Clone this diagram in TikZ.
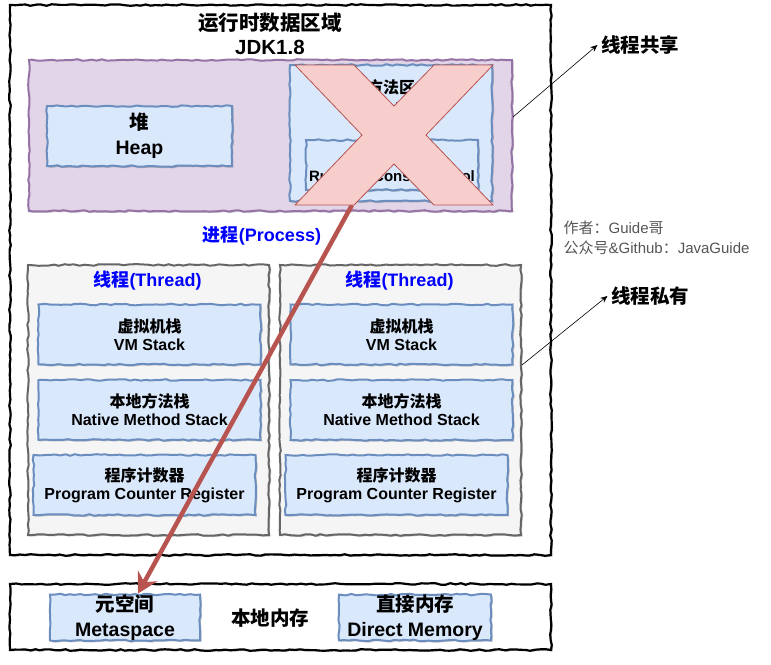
\documentclass[tikz,border=0pt]{standalone}
\usepackage{fontspec}
\setmainfont{Liberation Sans}
\newfontfamily\cjk{Noto Sans CJK SC}
\usepackage{tikz}
\usetikzlibrary{
	arrows.meta,
	calc,
	decorations.pathmorphing,
	shadows
}
\definecolor{boxBlue}{HTML}{6C8EBF}
\definecolor{boxFill}{HTML}{DAE8FC}
\definecolor{regionPurple}{HTML}{9673A6}
\definecolor{regionFill}{HTML}{E1D5E7}
\definecolor{threadGray}{HTML}{666666}
\definecolor{threadFill}{HTML}{F5F5F5}
\definecolor{crossRed}{HTML}{B85450}
\definecolor{crossFill}{HTML}{F8CECC}
\definecolor{labelBlue}{HTML}{0000FF}
\definecolor{noteGray}{HTML}{555555}
\newcommand{\zh}[1]{{\cjk #1}}
\newcommand{\titleFont}{\fontsize{20.5}{24}\selectfont\bfseries}
\newcommand{\bigFont}{\fontsize{19.5}{25}\selectfont\bfseries}
\newcommand{\midFont}{\fontsize{18}{22}\selectfont\bfseries}
\newcommand{\smallFont}{\fontsize{16}{18}\selectfont\bfseries}
\newcommand{\noteFont}{\fontsize{15}{20}\selectfont}
\tikzset{every path/.append style={line width=0.5pt}}
\tikzset{
	sketch/.style={decorate,decoration={random steps,segment length=5pt,amplitude=0.8pt}},
	softShadow/.style={drop shadow={shadow xshift=1.5pt,shadow yshift=-1.5pt,opacity=0.2,fill=black}},
	frame/.style={sketch,softShadow,draw=black,fill=white,line width=2.2pt,inner sep=0pt},
	region/.style={sketch,softShadow,draw=regionPurple,fill=regionFill,line width=2pt,inner sep=0pt},
	thread/.style={sketch,softShadow,draw=threadGray,fill=threadFill,line width=2pt,inner sep=0pt},
	box/.style={sketch,softShadow,draw=boxBlue,fill=boxFill,line width=2pt,inner sep=0pt,
		align=center,font=\smallFont,minimum width=222,minimum height=60},
	cross/.style={draw=crossRed,fill=crossFill,line width=0.8pt},
	moveArrow/.style={draw=crossRed,line width=4.5pt,-{Stealth[length=20pt,width=22pt,inset=7pt]}},
	pointer/.style={draw=black,line width=0.6pt,-{Stealth[length=7pt,width=6pt]}}
}
\newcommand{\tikzBox}[4][]{\node (#3) at #2 [box,#1]{#4};}

\begin{document}
\begin{tikzpicture}[x=1pt,y=-1pt]
	\useasboundingbox (0,0) rectangle (771,664);
	
	% Runtime data area
	\node (rda) at (280.5,280) [frame,minimum width=541,minimum height=550]{};
	\node (rdaTitle) at (270,34) [align=center,font=\titleFont]{\zh{运行时数据区域}\\JDK1.8};
	
	% Shared by all threads
	\node (shared) at (270.5,135.5) [region,minimum width=483,minimum height=151]{};
	\tikzBox[font=\bigFont,minimum width=185]{(139.5,136)}{heap}{\zh{堆}\\Heap}
	\tikzBox[minimum width=202,minimum height=136]{(391,133)}{method}{}
	\node (methodName) at (391,97.5) [align=center,font=\fontsize{16}{21}\selectfont\bfseries]{\zh{方法区}\\Method Area};
	\tikzBox[font=\fontsize{15}{20}\selectfont\bfseries,minimum width=172,minimum height=50]{(392,165)}{pool}{\zh{运行时常量池}\\Runtime Constant Pool}
	
	\node (procLbl) at (262,236) [font=\midFont,text=labelBlue]{\zh{进程}(Process)};
	
	% Threads
	\foreach \t/\cx in {L/148.5,R/400.5}{
		\node (th\t) at (\cx,400) [thread,minimum width=241,minimum height=270]{};
		\node (thLbl\t) at (\cx-1,281) [font=\midFont,text=labelBlue]{\zh{线程}(Thread)};
		\tikzBox{(\cx+1,334.5)}{vm\t}{\zh{虚拟机栈}\\VM Stack}
		\tikzBox{(\cx+1,410)}{nms\t}{\zh{本地方法栈}\\Native Method Stack}
		\tikzBox{(\cx-4,485)}{pc\t}{\zh{程序计数器}\\Program Counter Register}
	}
	
	% Notes on the right
	\node (shareLbl) at (640,45) [font=\bigFont]{\zh{线程共享}};
	\node (privLbl) at (650,296) [font=\bigFont]{\zh{线程私有}};
	\node (author) at (560,238) [anchor=west,align=left,font=\noteFont,text=noteGray]{\zh{作者：}Guide\zh{哥}\\\zh{公众号}\&Github\zh{：}JavaGuide};
	\draw[pointer] (shared.east |- 0,117) -- (shareLbl.west);
	\draw[pointer] (thR.east |- 0,365) -- (privLbl.west);
	
	% Native memory
	\node (native) at (280.5,617) [frame,minimum width=541,minimum height=66]{};
	\tikzBox[font=\bigFont,minimum width=150,minimum height=45]{(125,617.5)}{meta}{\zh{元空间}\\Metaspace}
	\node (nativeLbl) at (270,618) [font=\bigFont]{\zh{本地内存}};
	\tikzBox[font=\bigFont,minimum width=152,minimum height=45]{(415,617.5)}{direct}{\zh{直接内存}\\Direct Memory}
	
	% Method area moved to metaspace
	\coordinate (xFoot) at (352,205);
	\draw[moveArrow] (xFoot) -- ([xshift=13pt]meta.north);
	\draw[cross] (295,65) -- (354,65) -- (394,106) -- (434,65) -- (493,65) -- (426,135)
		-- (493,205) -- (434,205) -- (394,164) -- (354,205) -- (295,205) -- (362,135) -- cycle;
\end{tikzpicture}
\end{document}
